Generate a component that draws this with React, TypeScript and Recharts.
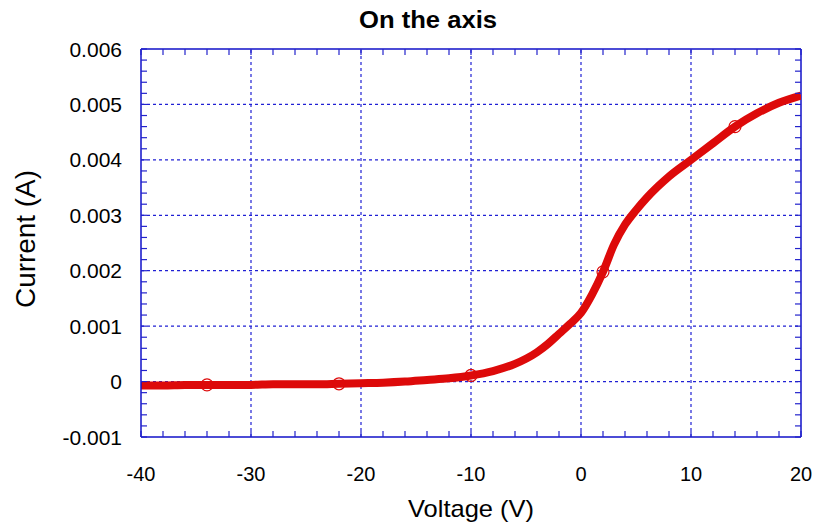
import React from "react";
import { LineChart, Line, XAxis, YAxis, ReferenceLine } from "recharts";

// I-V sweep
const voltage = [
  -40, -38, -36, -34, -32, -30, -28, -26, -24, -22, -20, -18, -16, -14, -12,
  -10, -8, -6, -4, -3, -2, -1, 0, 1, 2, 3, 4, 5, 6, 7, 8, 10, 12, 14, 16, 18,
  20,
];
const current = [
  -0.00007, -0.00007, -0.00006, -0.00006, -0.00006, -0.00006, -0.00005,
  -0.00005, -0.00005, -0.00004, -0.00003, -0.00002, 0.0, 0.00003, 0.00006,
  0.00011, 0.00019, 0.00032, 0.00053, 0.00068, 0.00086, 0.00104, 0.00124,
  0.00157, 0.00198, 0.00247, 0.00283, 0.00309, 0.00332, 0.00352, 0.0037,
  0.004, 0.0043, 0.0046, 0.00484, 0.00503, 0.00516,
];
const markerVoltages = [-34, -22, -10, 2, 14];

const xGrid = [-30, -20, -10, 0, 10];
const yGrid = [0, 0.001, 0.002, 0.003, 0.004, 0.005];
// minor ticks: every 2 V and every 0.0002 A
const xTicks = Array.from({ length: 31 }, (_, i) => -40 + 2 * i);
const yTicks = Array.from({ length: 36 }, (_, i) => (-10 + 2 * i) / 10000);

const data = voltage.map((v, i) => ({ v, i: current[i] }));

const W = 814;
const H = 527;
const M = { top: 49, right: 13, bottom: 0, left: 0 };
const X_AXIS_H = 90;
const Y_AXIS_W = 141;
const PLOT_W = W - M.left - M.right - Y_AXIS_W;
const PLOT_H = H - M.top - M.bottom - X_AXIS_H;

const FONT = "'Liberation Sans', Arial, Helvetica, sans-serif";
const FRAME = "#1010c8";
const TICK = "#2222cc";
const GRID = "#2020d4";
const RED = "#dd0a0a";

const isMajorX = (v: number) => Math.round(v) % 10 === 0;
const isMajorY = (v: number) => Math.round(v * 10000) % 10 === 0;

// bottom tick + matching inward tick on the top edge
const BottomTick = ({ x, y, payload }: any) => (
  <g>
    <line x1={x} x2={x} y1={y} y2={y - 6} stroke={TICK} strokeWidth={1.2} />
    <line x1={x} x2={x} y1={y - PLOT_H} y2={y - PLOT_H + 6} stroke={TICK} strokeWidth={1.2} />
    {isMajorX(payload.value) && (
      <text x={x} y={y + 44} textAnchor="middle" fontSize={20} fontFamily={FONT} fill="#000">
        {payload.value}
      </text>
    )}
  </g>
);

// left tick + matching inward tick on the right edge
const LeftTick = ({ x, y, payload }: any) => (
  <g>
    <line x1={x} x2={x + 6} y1={y} y2={y} stroke={TICK} strokeWidth={1.2} />
    <line x1={x + PLOT_W} x2={x + PLOT_W - 6} y1={y} y2={y} stroke={TICK} strokeWidth={1.2} />
    {isMajorY(payload.value) && (
      <text x={x - 19} y={y} dy="0.36em" textAnchor="end" fontSize={21} fontFamily={FONT} fill="#000">
        {String(Math.round(payload.value * 10000) / 10000)}
      </text>
    )}
  </g>
);

const Marker = (props: any) => {
  const { cx, cy, payload, index } = props;
  if (!markerVoltages.includes(payload.v)) return <g key={`m${index}`} />;
  return <circle key={`m${index}`} cx={cx} cy={cy} r={6} fill="none" stroke={RED} strokeWidth={1.2} />;
};

export default function App() {
  return (
    <div style={{ position: "absolute", left: 0, top: 0, width: W, height: H, background: "#fff" }}>
      <LineChart width={W} height={H} data={data} margin={M}>
        <XAxis
          dataKey="v"
          type="number"
          domain={[-40, 20]}
          ticks={xTicks}
          interval={0}
          height={X_AXIS_H}
          tickSize={0}
          tickMargin={0}
          tickLine={false}
          axisLine={{ stroke: FRAME, strokeWidth: 1.5 }}
          tick={<BottomTick />}
          allowDataOverflow
        />
        <YAxis
          type="number"
          domain={[-0.001, 0.006]}
          ticks={yTicks}
          interval={0}
          width={Y_AXIS_W}
          tickSize={0}
          tickMargin={0}
          tickLine={false}
          axisLine={{ stroke: FRAME, strokeWidth: 1.5 }}
          tick={<LeftTick />}
          allowDataOverflow
        />
        {xGrid.map((v) => (
          <ReferenceLine key={`gx${v}`} x={v} stroke={GRID} strokeWidth={1.2} strokeDasharray="3 3" />
        ))}
        {yGrid.map((v) => (
          <ReferenceLine key={`gy${v}`} y={v} stroke={GRID} strokeWidth={1.2} strokeDasharray="3 3" />
        ))}
        {/* frame on top and right edges */}
        <ReferenceLine x={20} stroke={FRAME} strokeWidth={1.5} />
        <ReferenceLine y={0.006} stroke={FRAME} strokeWidth={1.5} />
        <Line
          dataKey="i"
          type="monotone"
          stroke={RED}
          strokeWidth={8}
          dot={Marker}
          activeDot={false}
          isAnimationActive={false}
        />
      </LineChart>
      <svg width={W} height={H} style={{ position: "absolute", left: 0, top: 0, pointerEvents: "none" }}>
        <text x={428} y={28} textAnchor="middle" fontSize={23} fontWeight="bold" fontFamily={FONT} textLength={138} lengthAdjust="spacingAndGlyphs">
          On the axis
        </text>
        <text x={471} y={517} textAnchor="middle" fontSize={24} fontFamily={FONT} textLength={126} lengthAdjust="spacingAndGlyphs">
          Voltage (V)
        </text>
        <text
          x={35}
          y={239}
          transform="rotate(-90 35 239)"
          textAnchor="middle"
          fontSize={27}
          fontFamily={FONT}
          textLength={138}
          lengthAdjust="spacingAndGlyphs"
        >
          Current (A)
        </text>
      </svg>
    </div>
  );
}
